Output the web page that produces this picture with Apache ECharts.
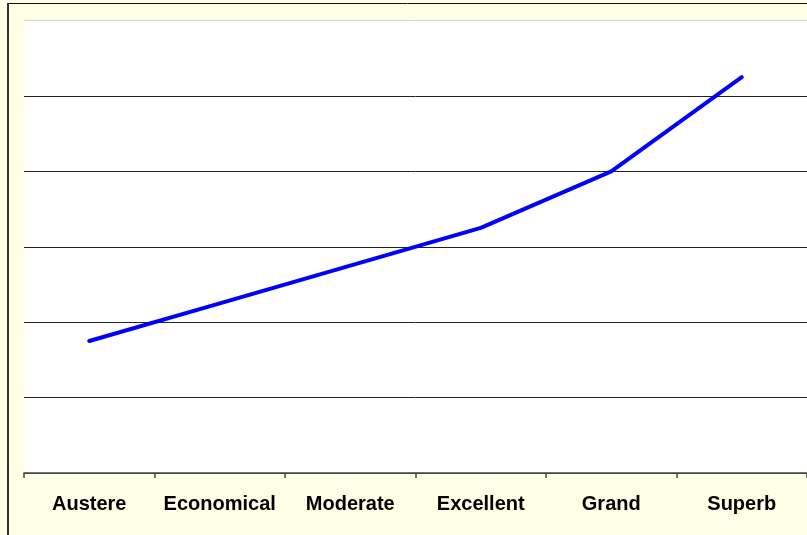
<!DOCTYPE html>
<html>
<head>
<meta charset="utf-8">
<script src="https://cdn.jsdelivr.net/npm/echarts@6/dist/echarts.min.js"></script>
<style>
  html, body { margin: 0; padding: 0; background: #FFFFE6; }
  #chart { width: 807px; height: 535px; }
</style>
</head>
<body>
<div id="chart"></div>
<script>
var categories = ["Austere", "Economical", "Moderate", "Excellent", "Grand", "Superb"];
var values = [1.75, 2.25, 2.75, 3.25, 4, 5.25];
var yMin = 0, yMax = 6, yStep = 1;

var myChart = echarts.init(document.getElementById("chart"), null, { renderer: "canvas" });

myChart.setOption({
  backgroundColor: "#FFFFE6",
  animation: false,
  graphic: [
    // frame around the chart (right/bottom edges are off the picture)
    { type: "line", shape: { x1: 8, y1: 3.5, x2: 807, y2: 3.5 }, style: { stroke: "#111", lineWidth: 1 } },
    { type: "line", shape: { x1: 8, y1: 3, x2: 8, y2: 535 }, style: { stroke: "#333", lineWidth: 2 } }
  ],
  grid: {
    left: 24,
    right: 0,
    top: 20.5,
    bottom: 62,
    show: true,
    backgroundColor: "#fff",
    borderWidth: 0
  },
  xAxis: {
    type: "category",
    data: categories,
    boundaryGap: true,
    axisLine: { lineStyle: { color: "#444", width: 1.5 } },
    axisTick: { show: true, length: 5, lineStyle: { color: "#444", width: 1.5 } },
    axisLabel: {
      margin: 21,
      fontFamily: "Liberation Sans, Arial, sans-serif",
      fontWeight: "bold",
      fontSize: 20,
      color: "#000",
      interval: 0
    }
  },
  yAxis: {
    type: "value",
    min: yMin,
    max: yMax,
    interval: yStep,
    axisLine: { show: false },
    axisTick: { show: false },
    axisLabel: { show: false },
    splitLine: {
      lineStyle: {
        color: ["#444", "#222", "#222", "#222", "#222", "#222", "#d8d8d8"],
        width: 1
      }
    }
  },
  series: [
    {
      type: "line",
      data: values,
      symbol: "none",
      lineStyle: { color: "#0000FF", width: 4, cap: "round", join: "round" },
      itemStyle: { color: "#0000FF" }
    }
  ]
});
</script>
</body>
</html>
